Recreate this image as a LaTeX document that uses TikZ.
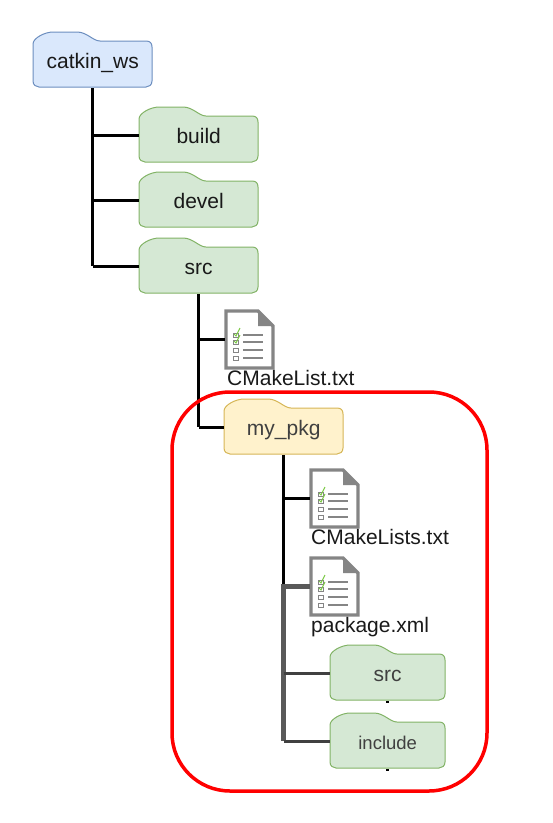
\documentclass[tikz,border=0pt]{standalone}
\usepackage{fontspec}
\setmainfont{Liberation Sans}
\definecolor{wsfill}{HTML}{DAE8FC}
\definecolor{wsline}{HTML}{6C8EBF}
\definecolor{dirfill}{HTML}{D5E8D4}
\definecolor{dirline}{HTML}{82B366}
\definecolor{pkgfill}{HTML}{FFF2CC}
\definecolor{pkgline}{HTML}{D6B656}
\definecolor{darkline}{HTML}{595959}
\definecolor{docline}{HTML}{858585}
\definecolor{tickline}{HTML}{7AC943}
\tikzset{
  wsdir/.style={fill=wsfill, draw=wsline, line width=1pt},
  greendir/.style={fill=dirfill, draw=dirline, line width=1pt},
  pkgdir/.style={fill=pkgfill, draw=pkgline, line width=1pt},
  dirlabel/.style={inner sep=0pt, minimum height=56pt, text height=16pt, text depth=0pt, text=black!90, font=\fontsize{21}{24}\selectfont},
  filelabel/.style={inner sep=0pt, anchor=base west, text=black!90, font=\fontsize{21}{24}\selectfont},
  trunk/.style={line width=3.3pt, black},
  branch/.style={line width=2.6pt, black},
  graytrunk/.style={line width=4.5pt, darkline},
  graybranch/.style={line width=2.6pt, black!75},
}
% name, left, top, width, style, text
\newcommand{\folderbox}[6]{
  \begin{scope}[shift={(#2,#3)}]
    \draw[#5] (0,12) .. controls (0,6) and (12,0) .. (20,0) -- (44,0)
      .. controls (54,0) and (60,9) .. (67,9)
      -- (#4-6,9) .. controls (#4-2,9) and (#4,11) .. (#4,15)
      -- (#4,49) .. controls (#4,53) and (#4-3,55) .. (#4-6,55)
      -- (6,55) .. controls (3,55) and (0,53) .. (0,49) -- cycle;
    \node[dirlabel, minimum width=#4 pt, anchor=north west] (#1) at (0,0) {#6};
  \end{scope}
}
% name, left, top
\newcommand{\docicon}[3]{
  \begin{scope}[shift={(#2,#3)}]
    \draw[docline, line width=3.2pt, fill=white, line join=miter] (1,1) -- (33,1) -- (48,16) -- (48,58) -- (1,58) -- cycle;
    \fill[docline] (33,0) -- (49,16) -- (33,16) -- cycle;
    \foreach \rowy in {25,32,40,48} {
      \draw[docline, line width=2.4pt] (18,\rowy) -- (38,\rowy);
      \draw[docline, line width=0.8pt] (8,\rowy-2) rectangle (13,\rowy+2);
    }
    \draw[tickline, line width=1pt] (9,24) -- (11,26) -- (15,18);
    \draw[tickline, line width=1pt] (9,31) -- (11,33) -- (15,25);
    \node[inner sep=0pt, minimum width=49pt, minimum height=59pt, anchor=north west] (#1) at (0,0) {};
  \end{scope}
}
\begin{document}
\begin{tikzpicture}[x=1pt, y=-1pt]
  \useasboundingbox (0,0) rectangle (553,823);

  \folderbox{ws}{33}{32}{119}{wsdir}{catkin\_ws}
  \folderbox{build}{139}{107}{119}{greendir}{build}
  \folderbox{devel}{139}{172}{119}{greendir}{devel}
  \folderbox{srcdir}{139}{238}{119}{greendir}{src}
  \docicon{listdoc}{225}{310}
  \node[filelabel] (listlabel) at (227,385) {CMakeList.txt};
  \folderbox{mypkg}{224}{399}{119}{pkgdir}{\textcolor{black!75}{my\_pkg}}
  \docicon{cmakedoc}{310}{469}
  \node[filelabel] (cmakelabel) at (311,544) {CMakeLists.txt};
  \docicon{pkgdoc}{310}{557}
  \node[filelabel] (pkglabel) at (311,632) {package.xml};
  \folderbox{pkgsrc}{330}{645}{115}{greendir}{\textcolor{black!75}{src}}
  \folderbox{pkginc}{330}{713}{115}{greendir}{\textcolor{black!75}{\fontsize{18.5}{22}\selectfont include}}

  \draw[trunk] (ws.south) -- (ws.south |- srcdir.west);
  \draw[branch] (ws.south |- build.west) -- (build.west);
  \draw[branch] (ws.south |- devel.west) -- (devel.west);
  \draw[branch] (ws.south |- srcdir.west) -- (srcdir.west);

  \draw[trunk] (srcdir.south) -- (srcdir.south |- mypkg.west);
  \draw[branch] (srcdir.south |- listdoc.west) -- (listdoc.west);
  \draw[branch] (srcdir.south |- mypkg.west) -- (mypkg.west);

  \draw[trunk] (mypkg.south) -- (mypkg.south |- pkgdoc.west);
  \draw[branch] (mypkg.south |- cmakedoc.west) -- (cmakedoc.west);
  \draw[graytrunk] (pkgdoc.west) -| (mypkg.south |- pkginc.west);
  \draw[graybranch] (mypkg.south |- pkgsrc.west) -- (pkgsrc.west);
  \draw[graybranch] (mypkg.south |- pkginc.west) -- (pkginc.west);

  \draw[line width=3pt, black] (pkgsrc.south) -- +(0,2);
  \draw[line width=3pt, black] (pkginc.south) -- +(0,2);

  \draw[red, line width=3.5pt, rounded corners=58pt] (172,392) rectangle (487,791);
\end{tikzpicture}
\end{document}
